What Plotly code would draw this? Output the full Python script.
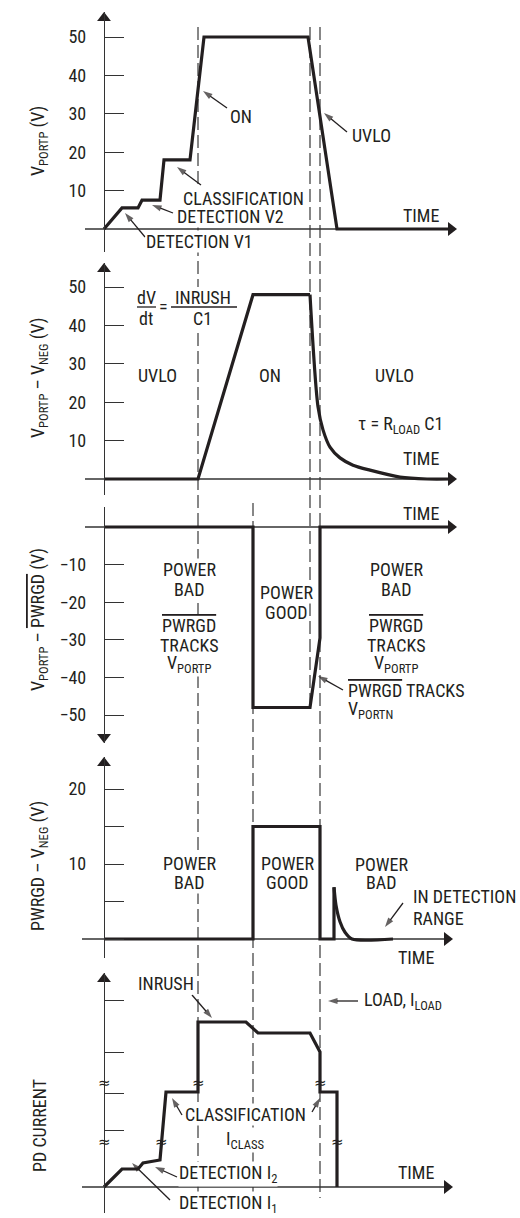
import plotly.graph_objects as go

W, H = 520, 1218
FONT = "Liberation Sans Narrow, Roboto Condensed, DejaVu Sans Condensed, Liberation Sans, sans-serif"
INK = "#231f20"
AXIS = "#333333"
DASH = "#555555"

# ---- time base (arbitrary units) ----
x_range = [-10.4, 41.6]
t_on = 9.4        # ON threshold reached, inrush starts
t_good = 14.9     # output fully charged, power good
t_off = 20.6      # input removed
t_uvlo = 21.6     # UVLO trip

# ---- panel 1: V_PORTP (V) ----
portp_t = [0, 1.8, 3.4, 3.8, 5.6, 6.0, 8.6, 10.0, 20.4, 23.3, 34.8]
portp_v = [0, 5.5, 5.5, 7.5, 7.5, 18, 18, 50, 50, 0, 0]

# ---- panel 2: V_PORTP - V_NEG (V) ----
neg_rise_t = [0, 9.4, 14.9, 20.6]
neg_rise_v = [0, 0, 48, 48]
neg_decay_t = [20.6, 21.4, 21.9, 22.6, 23.6, 24.9, 26.6, 29.6, 32.3, 34.8]
neg_decay_v = [48, 18.8, 12.8, 8.3, 5.5, 3.6, 2.3, 0.5, 0, 0]

# ---- panel 3: V_PORTP - PWRGD# (V) ----
pwrgdb_t = [0, 14.9, 14.9, 20.6, 21.6, 21.6, 34.8]
pwrgdb_v = [0, 0, -48, -48, -29.5, 0, 0]

# ---- panel 4: PWRGD - V_NEG (V) ----
pwrgd_t = [0, 14.9, 14.9, 21.6, 21.6, 23.0, 23.0]
pwrgd_v = [0, 0, 15, 15, 0, 0, 6.9]
pwrgd_tail_t = [23.0, 23.2, 23.6, 24.1, 24.8, 28.9]
pwrgd_tail_v = [6.9, 4.5, 2.3, 0.9, 0, 0]

# ---- panel 5: PD current (relative units) ----
pd_t = [0, 1.8, 3.4, 3.9, 5.6, 6.2, 9.4, 9.4, 14.2, 15.4, 20.6, 21.6, 21.6, 23.3, 23.3]
pd_i = [0, 1.8, 1.8, 2.4, 2.7, 9.5, 9.5, 16.5, 16.5, 15.4, 15.4, 13.5, 9.5, 9.5, 0]
pd_ticks = [5.7, 9.4, 13.5, 18.7]
break_t = [0, 0, 5.76, 9.4, 21.6, 23.3]
break_i = [4.5, 10.4, 4.5, 10.4, 10.4, 4.5]

volt_ticks = [10, 20, 30, 40, 50]
neg_ticks = [-10, -20, -30, -40, -50]
pwrgd_ticks = [10, 20]
pwrgd_minor = 5


def pyp(p):
    """pixel row -> paper y"""
    return 1 - p / H


def pxp(p):
    """pixel column -> paper x"""
    return p / W


def tpx(p):
    """pixel column -> time units"""
    return x_range[0] + (x_range[1] - x_range[0]) * p / W


# panel geometry: (axis top row, axis bottom row, zero row, px per unit)
panels = {
    "y": (12, 252, 229, 3.84),
    "y2": (263, 495, 479, 3.84),
    "y3": (507, 743, 527, 3.76),
    "y4": (757, 958, 939, 7.5),
    "y5": (973, 1213, 1187, 10.0),
}


def geom(name):
    top, bot, zero, s = panels[name]
    return [pyp(bot), pyp(top)], [(zero - bot) / s, (zero - top) / s]


def val(name, row):
    top, bot, zero, s = panels[name]
    return (zero - row) / s


fig = go.Figure()


def wave(t, v, yax, spline=False):
    fig.add_trace(go.Scatter(
        x=t, y=v, xaxis="x", yaxis=yax, mode="lines",
        line=dict(color=INK, width=3.2, shape="spline" if spline else "linear",
                  smoothing=0.8, simplify=False),
        hoverinfo="skip", showlegend=False))


wave(portp_t, portp_v, "y")
wave(neg_rise_t, neg_rise_v, "y2")
wave(neg_decay_t, neg_decay_v, "y2", spline=True)
wave(pwrgdb_t, pwrgdb_v, "y3")
wave(pwrgd_t, pwrgd_v, "y4")
wave(pwrgd_tail_t, pwrgd_tail_v, "y4", spline=True)
wave(pd_t, pd_i, "y5")

shapes = []
# time axes (thin baselines) and arrowheads
time_axes = [("y", -1.9, 35.3), ("y2", -1.9, 35.3), ("y3", -1.9, 35.3),
             ("y4", -2.2, 34.9), ("y5", -2.2, 34.9)]
for yax, t0, t1 in time_axes:
    shapes.append(dict(type="line", xref="x", yref=yax, x0=t0, x1=t1 - 0.6, y0=0, y1=0,
                       line=dict(color=AXIS, width=1.3), layer="below"))
    fig.add_trace(go.Scatter(x=[t1 - 0.6], y=[0], xaxis="x", yaxis=yax, mode="markers",
                             marker=dict(symbol="triangle-right", size=12, color=INK),
                             hoverinfo="skip", showlegend=False))

# value-axis arrowheads
for yax in ["y", "y2", "y4", "y5"]:
    top = panels[yax][0]
    fig.add_trace(go.Scatter(x=[0], y=[val(yax, top + 6)], xaxis="x", yaxis=yax, mode="markers",
                             marker=dict(symbol="triangle-up", size=12, color=INK),
                             hoverinfo="skip", showlegend=False))
fig.add_trace(go.Scatter(x=[0], y=[val("y3", panels["y3"][1] - 6)], xaxis="x", yaxis="y3",
                         mode="markers", marker=dict(symbol="triangle-down", size=12, color=INK),
                         hoverinfo="skip", showlegend=False))

# event markers running through the panels
for t, r0, r1 in [(t_on, 27, 1212), (t_good, 503, 1198), (t_off, 27, 708), (t_uvlo, 27, 1198)]:
    shapes.append(dict(type="line", xref="x", yref="paper", x0=t, x1=t, y0=pyp(r0), y1=pyp(r1),
                       line=dict(color=DASH, width=1.4, dash="13px,5px"), layer="below"))

# white field behind the dV/dt formula, then its fraction bars
shapes.append(dict(type="rect", xref="paper", yref="paper", x0=pxp(168), x1=pxp(240),
                   y0=pyp(329), y1=pyp(287), fillcolor="white", line=dict(width=0), layer="below"))
for c0, c1 in [(137, 156), (171, 237)]:
    shapes.append(dict(type="line", xref="paper", yref="paper", x0=pxp(c0), x1=pxp(c1),
                       y0=pyp(307), y1=pyp(307), line=dict(color=INK, width=1.3)))


def arrow(yax, tip, tail):
    """callout pointer from tail to tip (pixel positions), head at the tip"""
    fig.add_trace(go.Scatter(
        x=[tpx(tail[0]), tpx(tip[0])], y=[val(yax, tail[1]), val(yax, tip[1])],
        xaxis="x", yaxis=yax, mode="lines+markers",
        line=dict(color=INK, width=1.3),
        marker=dict(symbol="arrow", size=[0, 10], angleref="previous", color=INK,
                    line=dict(width=0)),
        hoverinfo="skip", showlegend=False, cliponaxis=False))


ann = []


def txt(s, x, y, anchor="center", size=18, bg=True, angle=0):
    ann.append(dict(text=s, x=pxp(x), y=pyp(y), xref="paper", yref="paper",
                    xanchor=anchor, yanchor="middle", showarrow=False, textangle=angle,
                    font=dict(family=FONT, size=size, color=INK),
                    bgcolor="white" if bg else "rgba(0,0,0,0)", borderpad=0))


OL = "<span style='text-decoration:overline'>PWRGD</span>"

# panel 1
txt("V<sub>PORTP</sub> (V)", 39, 141, angle=-90, bg=False)
txt("ON", 241, 116)
txt("UVLO", 371, 135)
txt("CLASSIFICATION", 243, 198)
txt("DETECTION V2", 230, 216)
txt("DETECTION V1", 199, 242)
txt("TIME", 421, 215)
arrow("y", (203, 91), (227, 108))
arrow("y", (324, 113), (347, 132))
arrow("y", (177, 167), (201, 185))
arrow("y", (152, 205), (173, 213))
arrow("y", (125, 213), (145, 237))

# panel 2
txt("V<sub>PORTP</sub> – V<sub>NEG</sub> (V)", 39, 378, angle=-90, bg=False)
txt("dV", 146, 297, bg=False)
txt("dt", 146, 319, bg=False)
txt("=", 163, 306, bg=False)
txt("INRUSH", 203, 297, bg=False)
txt("C1", 202, 319, bg=False)
txt("UVLO", 157, 375)
txt("ON", 270, 375)
txt("UVLO", 394, 375)
txt("τ = R<sub>LOAD</sub> C1", 400, 425)
txt("TIME", 421, 458)

# panel 3
txt("V<sub>PORTP</sub> – " + OL + " (V)", 39, 620, angle=-90, bg=False)
txt("TIME", 421, 513)
for cx in (189, 396):
    txt("POWER", cx, 569)
    txt("BAD", cx, 589)
    txt(OL, cx, 625)
    txt("TRACKS", cx, 645)
    txt("V<sub>PORTP</sub>", cx, 664)
txt("POWER", 286, 592)
txt("GOOD", 286, 612)
txt(OL + " TRACKS", 347, 690, anchor="left")
txt("V<sub>PORTN</sub>", 347, 710, anchor="left")
arrow("y3", (318, 676), (343, 690))

# panel 4
txt("PWRGD – V<sub>NEG</sub> (V)", 39, 866, angle=-90, bg=False)
txt("POWER", 189, 863)
txt("BAD", 189, 883)
txt("POWER", 287, 863)
txt("GOOD", 287, 883)
txt("POWER", 381, 864)
txt("BAD", 381, 883)
txt("IN DETECTION", 412, 896, anchor="left")
txt("RANGE", 412, 918, anchor="left")
arrow("y4", (385, 927), (403, 903))
txt("TIME", 416, 957)

# panel 5
txt("PD CURRENT", 39, 1126, angle=-90, bg=False)
txt("INRUSH", 166, 983)
arrow("y5", (212, 1018), (192, 995))
txt("LOAD, I<sub>LOAD</sub>", 363, 1001, anchor="left")
arrow("y5", (328, 1001), (358, 1001))
txt("CLASSIFICATION", 245, 1114)
txt("I<sub>CLASS</sub>", 245, 1140)
arrow("y5", (172, 1098), (182, 1115))
arrow("y5", (320, 1098), (312, 1112))
txt("DETECTION I<sub>2</sub>", 178, 1174, anchor="left")
arrow("y5", (155, 1167), (177, 1177))
txt("DETECTION I<sub>1</sub>", 178, 1204, anchor="left")
arrow("y5", (132, 1163), (170, 1200))
txt("TIME", 416, 1172)

# axis breaks on the current axis and trace
for bt, bi in zip(break_t, break_i):
    ann.append(dict(text="≈", x=bt, y=bi, xref="x", yref="y5", showarrow=False,
                    font=dict(family="DejaVu Sans", size=15, color=INK)))

axis_common = dict(anchor="free", position=pxp(104), showline=True, linecolor=AXIS, linewidth=1.4,
                   ticks="inside", ticklen=19, tickwidth=1.4, tickcolor=AXIS,
                   showgrid=False, zeroline=False, fixedrange=True,
                   tickfont=dict(family=FONT, size=18, color=INK), ticklabelstandoff=14)

layout_axes = {}
tick_spec = {
    "y": (volt_ticks, [str(v) for v in volt_ticks]),
    "y2": (volt_ticks, [str(v) for v in volt_ticks]),
    "y3": (neg_ticks, ["−" + str(-v) for v in neg_ticks]),
    "y4": (pwrgd_ticks, [str(v) for v in pwrgd_ticks]),
    "y5": (pd_ticks, None),
}
for name in panels:
    dom, rng = geom(name)
    tv, tt = tick_spec[name]
    key = "yaxis" if name == "y" else "yaxis" + name[1:]
    spec = dict(domain=dom, range=rng, tickmode="array", tickvals=tv, **axis_common)
    if tt is None:
        spec["showticklabels"] = False
    else:
        spec["ticktext"] = tt
    if name == "y4":
        spec["minor"] = dict(tick0=0, dtick=pwrgd_minor, ticks="inside", ticklen=19,
                             tickwidth=1.4, tickcolor=AXIS, showgrid=False)
    layout_axes[key] = spec

fig.update_layout(
    width=W, height=H, margin=dict(l=0, r=0, t=0, b=0),
    paper_bgcolor="white", plot_bgcolor="white", showlegend=False,
    xaxis=dict(domain=[0, 1], range=x_range, visible=False, fixedrange=True),
    shapes=shapes, annotations=ann,
    font=dict(family=FONT, color=INK),
    **layout_axes,
)

fig.write_html("out.html")
